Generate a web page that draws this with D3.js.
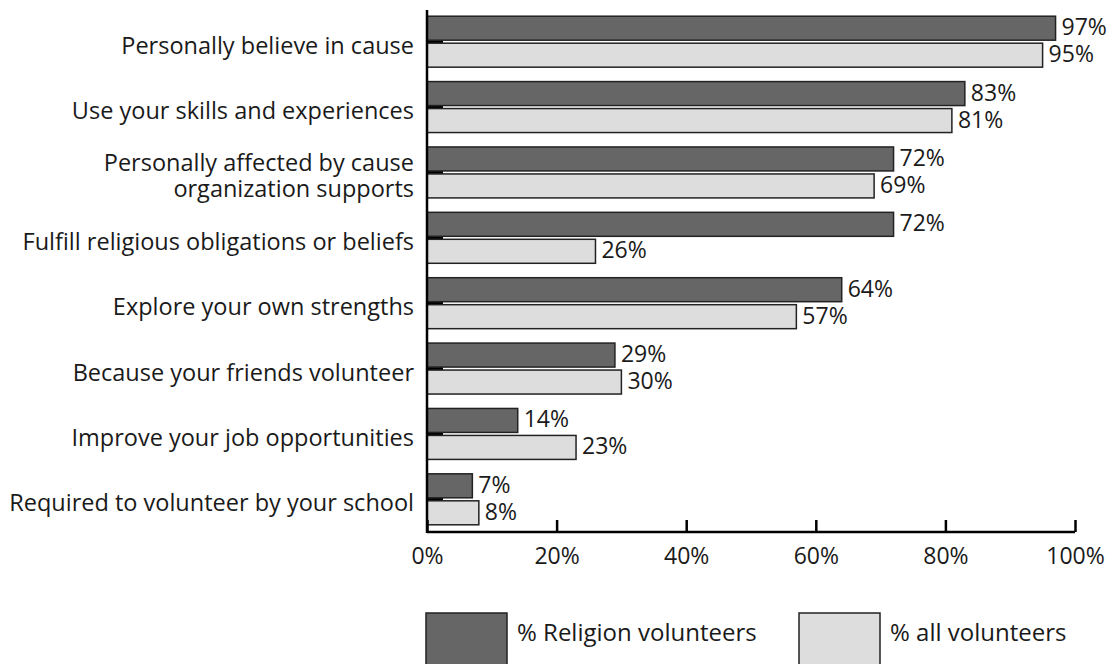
<!DOCTYPE html>
<html>
<head>
<meta charset="utf-8">
<script src="https://cdn.jsdelivr.net/npm/d3@7"></script>
<style>
  html, body { margin: 0; padding: 0; background: #fff; }
  svg { display: block; }
  text { font-family: "Open Sans", "Noto Sans", sans-serif; fill: #1a1a1a; }
</style>
</head>
<body>
<svg id="chart" width="1112" height="664"></svg>
<script>
const categories = [
  ["Personally believe in cause"],
  ["Use your skills and experiences"],
  ["Personally affected by cause", "organization supports"],
  ["Fulfill religious obligations or beliefs"],
  ["Explore your own strengths"],
  ["Because your friends volunteer"],
  ["Improve your job opportunities"],
  ["Required to volunteer by your school"]
];
const religionValues = [97, 83, 72, 72, 64, 29, 14, 7];
const allValues = [95, 81, 69, 26, 57, 30, 23, 8];
const seriesNames = ["% Religion volunteers", "% all volunteers"];
const seriesColors = ["#666666", "#dddddd"];
const xTicks = [0, 20, 40, 60, 80, 100];

const svg = d3.select("#chart");
const x = d3.scaleLinear().domain([0, 100]).range([427, 1075]);
const y = d3.scaleBand().domain(d3.range(categories.length)).range([9, 532]);
const inner = d3.scaleBand().domain([0, 1]).range([0, y.bandwidth()])
  .paddingInner(0.111).paddingOuter(0.267);

const data = categories.map((c, i) => ({ i, label: c, values: [religionValues[i], allValues[i]] }));

// inward y ticks (drawn under bars)
svg.append("g").selectAll("line").data(data).join("line")
  .attr("x1", x(0)).attr("x2", x(0) + 16)
  .attr("y1", d => y(d.i) + y.bandwidth() / 2)
  .attr("y2", d => y(d.i) + y.bandwidth() / 2)
  .attr("stroke", "#000").attr("stroke-width", 3);

const groups = svg.append("g").selectAll("g").data(data).join("g")
  .attr("transform", d => `translate(0,${y(d.i)})`);

groups.selectAll("rect").data(d => d.values.map((v, k) => ({ v, k }))).join("rect")
  .attr("x", x(0))
  .attr("y", d => inner(d.k))
  .attr("width", d => x(d.v) - x(0))
  .attr("height", inner.bandwidth())
  .attr("fill", d => seriesColors[d.k])
  .attr("stroke", "#222").attr("stroke-width", 1.5);

groups.selectAll("text.val").data(d => d.values.map((v, k) => ({ v, k }))).join("text")
  .attr("class", "val")
  .attr("x", d => x(d.v) + 6)
  .attr("y", d => inner(d.k) + inner.bandwidth() / 2 + 7)
  .attr("font-size", 23)
  .text(d => d.v + "%");

// category labels
const labels = svg.append("g").selectAll("text").data(data).join("text")
  .attr("text-anchor", "end")
  .attr("font-size", 23.5)
  .attr("x", 414)
  .attr("y", d => y(d.i) + y.bandwidth() / 2 + 12 - (d.label.length - 1) * 13);
labels.selectAll("tspan").data(d => d.label).join("tspan")
  .attr("x", 414)
  .attr("dy", (d, j) => j === 0 ? 0 : 26)
  .text(d => d);

// x axis
const xAxis = d3.axisBottom(x).tickValues(xTicks).tickSize(-12).tickPadding(16)
  .tickFormat(d => d + "%");
const gx = svg.append("g").attr("transform", `translate(0,532)`).call(xAxis);
gx.select(".domain").attr("stroke", "#000").attr("stroke-width", 2.5)
  .attr("d", `M${x(0)},0H${x(100)}`);
gx.selectAll(".tick line").attr("stroke", "#000").attr("stroke-width", 2.5);
gx.selectAll(".tick text").attr("font-size", 23).attr("font-family", "'Open Sans', sans-serif").attr("fill", "#1a1a1a");

// y axis line
svg.append("line").attr("x1", x(0)).attr("x2", x(0)).attr("y1", 10).attr("y2", 533)
  .attr("stroke", "#000").attr("stroke-width", 2.5);

// legend
const legendX = [426, 799];
const leg = svg.append("g").selectAll("g").data(seriesNames).join("g")
  .attr("transform", (d, k) => `translate(${legendX[k]},613)`);
leg.append("rect").attr("width", 81).attr("height", 60)
  .attr("fill", (d, k) => seriesColors[k]).attr("stroke", "#222").attr("stroke-width", 1.5);
leg.append("text").attr("x", 91).attr("y", 28).attr("font-size", 24).text(d => d);
</script>
</body>
</html>
